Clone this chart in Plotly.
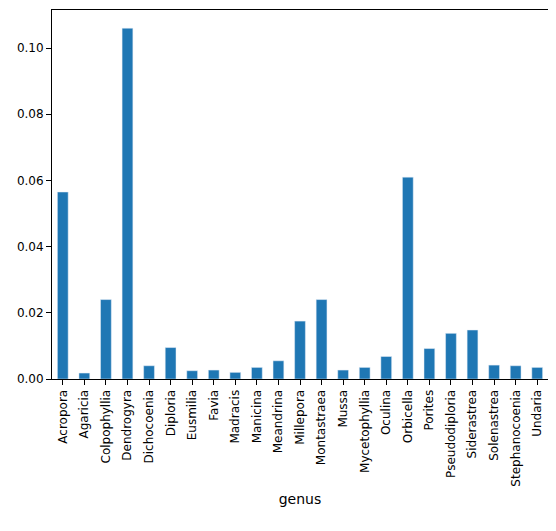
import plotly.graph_objects as go

genus = ["Acropora", "Agaricia", "Colpophyllia", "Dendrogyra", "Dichocoenia", "Diploria",
         "Eusmilia", "Favia", "Madracis", "Manicina", "Meandrina", "Millepora", "Montastraea",
         "Mussa", "Mycetophyllia", "Oculina", "Orbicella", "Porites", "Pseudodiploria",
         "Siderastrea", "Solenastrea", "Stephanocoenia", "Undaria"]
values = [0.0565, 0.0018, 0.0240, 0.1060, 0.0040, 0.0095, 0.0025, 0.0027, 0.0020, 0.0035,
          0.0055, 0.0175, 0.0240, 0.0027, 0.0035, 0.0068, 0.0610, 0.0092, 0.0138, 0.0148,
          0.0042, 0.0040, 0.0035]

fig = go.Figure(go.Bar(x=genus, y=values, width=0.5, marker_color="#1f77b4"))

axis = dict(showline=True, linecolor="black", mirror=True, ticks="outside",
            tickcolor="black", showgrid=False, zeroline=False)
fig.update_layout(
    width=541, height=515, plot_bgcolor="white", paper_bgcolor="white",
    margin=dict(l=44, r=1, t=2, b=144),
    font=dict(family="DejaVu Sans", size=12, color="black"),
    xaxis=dict(axis, range=[-0.5, 22.5], tickangle=-90,
               title=dict(text="genus", standoff=8)),
    yaxis=dict(axis, range=[0, 0.1115], tickvals=[0, 0.02, 0.04, 0.06, 0.08, 0.10],
               tickformat=".2f"),
    showlegend=False,
)
fig.write_html("out.html")
